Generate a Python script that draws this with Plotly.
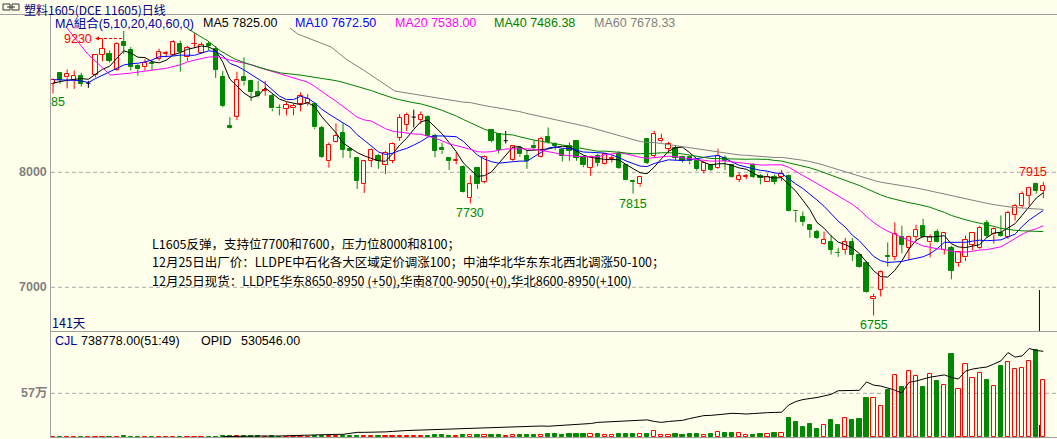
import plotly.graph_objects as go

# ---------------- data ----------------
opens = [8770, 8860, 8825, 8805, 8840, 8775, 8845, 9020, 9030, 8890,
         9130, 9065, 8925, 8915, 8955, 8985, 9030, 9020, 9120, 9000,
         9115, 9040, 9120, 9070, 8825, 8405, 8480, 8830, 8790, 8695,
         8710, 8665, 8560, 8550, 8555, 8595, 8600, 8595, 8385, 8095,
         8265, 8340, 8205, 8125, 7895, 8100, 8145, 8060, 8100, 8300,
         8410, 8480, 8455, 8480, 8320, 8215, 8125, 8100, 8050, 7775,
         8035, 7915, 8370, 8330, 8275, 8110, 8215, 8140, 8225, 8135,
         8310, 8250, 8190, 8225, 8275, 8135, 8040, 8145, 8070, 8120,
         8160, 8065, 7925, 7895, 8290, 8145, 8270, 8205, 8215, 8135,
         8130, 8095, 8010, 8060, 8040, 8125, 8060, 7935, 7960, 8065,
         7965, 7920, 7955, 7960, 7970, 7665, 7615, 7545, 7485, 7380,
         7390, 7300, 7325, 7395, 7285, 7215, 6895, 6980, 7275, 7265,
         7440, 7345, 7440, 7535, 7390, 7485, 7325, 7345, 7210, 7260,
         7370, 7345, 7555, 7460, 7470, 7435, 7630, 7710, 7795, 7895,
         7840]
highs = [8815, 8870, 8895, 8885, 8865, 8795, 9025, 9165, 9060, 9130,
         9230, 9090, 8940, 8985, 8970, 9075, 9055, 9150, 9145, 9100,
         9210, 9130, 9135, 9100, 8880, 8480, 8875, 9000, 8805, 8795,
         8795, 8680, 8590, 8610, 8595, 8695, 8680, 8610, 8405, 8260,
         8425, 8425, 8205, 8130, 8100, 8205, 8160, 8185, 8260, 8505,
         8520, 8545, 8530, 8495, 8335, 8260, 8125, 8175, 8060, 7975,
         8045, 8145, 8375, 8335, 8360, 8230, 8230, 8190, 8275, 8310,
         8390, 8260, 8205, 8260, 8280, 8145, 8145, 8160, 8165, 8145,
         8185, 8070, 7935, 7970, 8300, 8360, 8335, 8265, 8230, 8145,
         8145, 8100, 8100, 8070, 8205, 8145, 8065, 8000, 7985, 8080,
         7985, 7990, 7980, 8020, 7980, 7670, 7660, 7550, 7500, 7485,
         7450, 7345, 7430, 7430, 7290, 7225, 6945, 7145, 7390, 7565,
         7535, 7450, 7545, 7595, 7460, 7505, 7480, 7360, 7315, 7450,
         7480, 7535, 7585, 7520, 7625, 7665, 7725, 7835, 7875, 7910,
         7915]
lows = [8685, 8770, 8730, 8725, 8745, 8735, 8825, 8965, 8955, 8885,
        9030, 8885, 8840, 8885, 8885, 8970, 9000, 9015, 8875, 8970,
        9080, 9035, 9060, 8820, 8565, 8380, 8455, 8755, 8620, 8650,
        8665, 8530, 8495, 8495, 8495, 8530, 8580, 8375, 8125, 8040,
        8260, 8125, 8125, 7855, 7820, 8045, 8030, 7985, 8080, 8275,
        8360, 8390, 8420, 8310, 8130, 8160, 8020, 8070, 7825, 7730,
        7855, 7905, 8260, 8165, 8250, 8100, 8135, 8030, 8205, 8130,
        8250, 8195, 8095, 8100, 8100, 8045, 7970, 8050, 8065, 8085,
        8030, 7930, 7815, 7875, 8070, 8125, 8260, 8165, 8100, 8085,
        8070, 8015, 7990, 8010, 8030, 8020, 7950, 7915, 7940, 7950,
        7895, 7915, 7895, 7925, 7660, 7565, 7535, 7430, 7420, 7370,
        7285, 7265, 7285, 7230, 7170, 6950, 6755, 6920, 7180, 7235,
        7295, 7235, 7400, 7430, 7260, 7390, 7285, 7070, 7180, 7230,
        7320, 7335, 7430, 7380, 7440, 7420, 7580, 7690, 7710, 7815,
        7775]
closes = [8805, 8805, 8855, 8840, 8770, 8775, 9020, 9075, 8970, 9120,
          9100, 8920, 8895, 8955, 8940, 9050, 9035, 9130, 9050, 9080,
          9120, 9110, 9095, 8890, 8575, 8385, 8805, 8790, 8695, 8660,
          8720, 8555, 8555, 8585, 8580, 8665, 8640, 8390, 8135, 8240,
          8315, 8195, 8185, 7925, 8095, 8195, 8100, 8165, 8245, 8475,
          8500, 8480, 8500, 8320, 8185, 8190, 8100, 8105, 7830, 7895,
          7895, 8130, 8270, 8195, 8275, 8225, 8155, 8100, 8210, 8290,
          8260, 8230, 8145, 8185, 8125, 8060, 8135, 8085, 8155, 8125,
          8040, 7935, 7920, 7960, 8085, 8330, 8290, 8245, 8125, 8100,
          8095, 8030, 8080, 8020, 8145, 8100, 7955, 7970, 7965, 7960,
          7950, 7960, 7915, 7985, 7665, 7660, 7565, 7500, 7430, 7415,
          7325, 7295, 7390, 7285, 7175, 6955, 6920, 7130, 7265, 7465,
          7370, 7435, 7500, 7440, 7440, 7395, 7470, 7145, 7305, 7415,
          7470, 7520, 7450, 7505, 7450, 7650, 7710, 7815, 7865, 7840,
          7885]
volumes = [5000, 4000, 6000, 4000, 4000, 3000, 8000, 9000, 6000, 9000,
           11000, 8000, 6000, 5000, 5000, 7000, 4000, 8000, 8000, 6000,
           7000, 5000, 5000, 9000, 16000, 18000, 15000, 12000, 13000, 11000,
           9000, 12000, 10000, 9000, 10000, 12000, 10000, 14000, 17000, 20000,
           15000, 14000, 12000, 18000, 20000, 15000, 13000, 14000, 16000, 21000,
           22000, 18000, 17000, 20000, 26000, 24000, 22000, 20000, 30000, 28000,
           26000, 30000, 24000, 28000, 22000, 30000, 32000, 30000, 25000, 36000,
           40000, 38000, 35000, 42000, 45000, 40000, 38000, 45000, 36000, 30000,
           42000, 45000, 48000, 40000, 47000, 82000, 30000, 30000, 43000, 30000,
           43000, 43000, 30000, 43000, 65000, 56000, 56000, 52000, 30000, 30000,
           43000, 43000, 56000, 52000, 250000, 199000, 134000, 173000, 108000, 155000,
           225000, 160000, 250000, 225000, 237000, 509000, 509000, 404000, 613000, 805000,
           650000, 857000, 794000, 648000, 816000, 725000, 678000, 1080000, 622000, 946000,
           764000, 829000, 743000, 661000, 924000, 972000, 881000, 894000, 985000, 1129000,
           738778]
oi_first_day = 24
open_interest = [153000, 154000, 154000, 155000, 155000, 155000, 156000, 155000, 156000,
                 159000, 158000, 159000, 159000, 163000, 163000, 164000, 163000, 163000,
                 168000, 172000, 172000, 172000, 172000, 174000, 176000, 179000,
                 180000, 181000, 182000, 185000, 185000, 187000, 187000, 189000, 190000, 191000,
                 193000, 193000, 194000, 194000, 196000, 197000, 198000, 199000, 199000, 200000,
                 199000, 201000, 202000, 204000, 205000, 207000, 211000, 216000, 218000, 220000,
                 221000, 222000, 224000, 226000, 227000, 220000, 216000, 220000, 224000, 225000,
                 233000, 240000, 246000, 247000, 250000, 254000, 256000, 255000, 253000, 255000,
                 258000, 259000, 260000, 261000, 293000, 308000, 317000, 321000, 326000, 333000,
                 340000, 356000, 357000, 355000, 358000, 395000, 381000, 377000, 368000, 359000,
                 346000, 393000, 399000, 408000, 416000, 421000, 426000, 415000, 408000, 443000,
                 452000, 457000, 461000, 474000, 488000, 525000, 505000, 510000, 543000, 534000,
                 530546]
# moving-average values before enough visible days exist
ma5_head = [8777, 8790, 8800, 8808]
ma10_head = [8806, 8806, 8805, 8800, 8795, 8780, 8815, 8845, 8875]
ma20_head_x = [1.0, 2.1, 4.9, 8.1, 11.0, 13.4, 16.0, 18.0]
ma20_head = [9340, 9246, 9029, 8846, 8863, 8881, 8905, 8935]
ma40_head_x = [18.0, 19.1, 21.9, 23.7, 25.7, 27.6, 30.0, 32.2, 34.9, 38.0]
ma40_head = [9330, 9246, 9142, 9055, 8985, 8942, 8898, 8864, 8846, 8815]
ma60_head_x = [32.0, 33.5, 34.6, 39.3, 41.6, 44.1, 48.3, 53.4, 58.0]
ma60_head = [9370, 9255, 9203, 9090, 8977, 8881, 8707, 8655, 8610]

title_text = "塑料1605(DCE 11605)日线"
legend_items = [("MA組合(5,10,20,40,60,0)", "#0000A0"), ("MA5 7825.00", "#000000"),
                ("MA10 7672.50", "#0000FF"), ("MA20 7538.00", "#FF00FF"),
                ("MA40 7486.38", "#008000"), ("MA60 7678.33", "#808080")]
note_lines = ["L1605反弹，支持位7700和7600，压力位8000和8100；",
              "12月25日出厂价：LLDPE中石化各大区域定价调涨100；中油华北华东东北西北调涨50-100；",
              "12月25日现货：LLDPE华东8650-8950 (+50),华南8700-9050(+0),华北8600-8950(+100)"]
price_ticks = [8000, 7000]
vol_tick = 570000
vol_tick_label = "57万"

# ---------------- styling ----------------
W, H = 1057, 439
BG = "#FFFFEC"
RED = "#FF0000"
GREEN = "#008800"
GRID = "#A8A8A8"
AXIS = "#A0A0A0"
BODY_W = 0.6
LAT = "Liberation Sans, Noto Sans CJK SC"
CJK = "Noto Sans CJK SC"


def px(x):
    return x / W


def py(y):
    return 1 - y / H


N = len(closes)
xs = list(range(N))


def sma(vals, n):
    return [sum(vals[i - n + 1:i + 1]) / n if i >= n - 1 else None for i in range(len(vals))]


up = [i for i in xs if closes[i] > opens[i]]
dn = [i for i in xs if closes[i] < opens[i]]
eq = [i for i in xs if closes[i] == opens[i]]


def wick_xy(idx, full=False):
    wx, wy = [], []
    for i in idx:
        top = max(opens[i], closes[i])
        bot = min(opens[i], closes[i])
        if full:
            wx += [i, i, None, i - BODY_W / 2, i + BODY_W / 2, None]
            wy += [highs[i], lows[i], None, opens[i], opens[i], None]
            continue
        if highs[i] > top:
            wx += [i, i, None]
            wy += [highs[i], top, None]
        if lows[i] < bot:
            wx += [i, i, None]
            wy += [bot, lows[i], None]
    return wx, wy


fig = go.Figure()

# candle wicks
for idx, col, full in [(up, RED, False), (dn, GREEN, False), (eq, "#000000", True)]:
    wx, wy = wick_xy(idx, full)
    fig.add_trace(go.Scatter(x=wx, y=wy, mode="lines", line=dict(color=col, width=1),
                             hoverinfo="skip", yaxis="y"))
# candle bodies
fig.add_trace(go.Bar(x=up, y=[closes[i] - opens[i] for i in up], base=[opens[i] for i in up],
                     width=BODY_W, marker=dict(color=BG, line=dict(color=RED, width=1)), yaxis="y"))
fig.add_trace(go.Bar(x=dn, y=[opens[i] - closes[i] for i in dn], base=[closes[i] for i in dn],
                     width=BODY_W, marker=dict(color=GREEN, line=dict(color=GREEN, width=1)), yaxis="y"))

# moving averages
ma_specs = [
    (list(range(4)) + xs[4:], ma5_head + sma(closes, 5)[4:], "#000000"),
    (list(range(9)) + xs[9:], ma10_head + sma(closes, 10)[9:], "#0000FF"),
    (ma20_head_x + xs[19:], ma20_head + sma(closes, 20)[19:], "#FF00FF"),
    (ma40_head_x + xs[39:], ma40_head + sma(closes, 40)[39:], "#008000"),
    (ma60_head_x + xs[59:], ma60_head + sma(closes, 60)[59:], "#808080"),
]
for mx, my, col in ma_specs:
    fig.add_trace(go.Scatter(x=mx, y=my, mode="lines", line=dict(color=col, width=1),
                             hoverinfo="skip", yaxis="y"))

# volume bars
vup = [i for i in xs if closes[i] >= opens[i]]
vdn = [i for i in xs if closes[i] < opens[i]]
fig.add_trace(go.Bar(x=vup, y=[volumes[i] for i in vup], width=BODY_W,
                     marker=dict(color=BG, line=dict(color=RED, width=1)), yaxis="y2"))
fig.add_trace(go.Bar(x=vdn, y=[volumes[i] for i in vdn], width=BODY_W,
                     marker=dict(color=GREEN, line=dict(color=GREEN, width=1)), yaxis="y2"))
# open interest
fig.add_trace(go.Scatter(x=list(range(oi_first_day, N)), y=open_interest, mode="lines",
                         line=dict(color="#000000", width=1), yaxis="y3", hoverinfo="skip"))

# ---------------- frame / grid ----------------
shapes = []
line_gray = dict(color=AXIS, width=1)
shapes.append(dict(type="line", xref="paper", yref="paper", x0=0, x1=1, y0=py(14.5), y1=py(14.5), line=line_gray))
shapes.append(dict(type="line", xref="paper", yref="paper", x0=px(50.5), x1=px(50.5), y0=py(14.5), y1=py(437.5), line=line_gray))
shapes.append(dict(type="line", xref="paper", yref="paper", x0=px(50.5), x1=1, y0=py(331.5), y1=py(331.5), line=line_gray))
shapes.append(dict(type="line", xref="paper", yref="paper", x0=px(50.5), x1=1, y0=py(437.5), y1=py(437.5), line=line_gray))
for t in price_ticks:
    shapes.append(dict(type="line", xref="paper", yref="y", x0=px(51), x1=1, y0=t, y1=t,
                       line=dict(color=GRID, width=1, dash="4px,3px"), layer="below"))
shapes.append(dict(type="line", xref="paper", yref="y2", x0=px(51), x1=1, y0=vol_tick, y1=vol_tick,
                   line=dict(color=GRID, width=1, dash="4px,3px"), layer="below"))
# cursor line
shapes.append(dict(type="line", xref="x", yref="y", x0=139.45, x1=139.45, y0=6620, y1=6976,
                   line=dict(color="#000080", width=1)))
shapes.append(dict(type="line", xref="x", yref="y2", x0=139.45, x1=139.45, y0=0, y1=159000,
                   line=dict(color="#000080", width=1)))
# 9230 marker dashes
shapes.append(dict(type="line", xref="paper", yref="paper", x0=px(99), x1=px(122), y0=py(38.5), y1=py(38.5),
                   line=dict(color=RED, width=1, dash="3px,2px")))
# link icon
for x0, x1 in [(3, 10), (12, 19)]:
    shapes.append(dict(type="rect", xref="paper", yref="paper", x0=px(x0), x1=px(x1), y0=py(4), y1=py(10),
                       line=dict(color="#303030", width=1)))
shapes.append(dict(type="line", xref="paper", yref="paper", x0=px(7), x1=px(15), y0=py(7), y1=py(7),
                   line=dict(color="#303030", width=1)))

# ---------------- text ----------------
ann = []


def txt(text, x, y, color, size=12, family=LAT, xanchor="left", xref="paper", yref="paper",
        bold=False, **kw):
    font = dict(color=color, size=size, family=family)
    if bold:
        font["weight"] = "bold"
    d = dict(text=text, x=x, y=y, xref=xref, yref=yref, xanchor=xanchor, yanchor=kw.pop("yanchor", "middle"),
             showarrow=False, borderpad=0, font=font)
    d.update(kw)
    ann.append(d)


txt(title_text, px(23), py(0), "#00007F", 12, CJK, yanchor="top")
leg_x = [54, 202, 294, 394, 493, 593]
for (t, c), lx in zip(legend_items, leg_x):
    txt(t, px(lx), py(23), c, 12.5, LAT)

txt("9230", px(63), py(39), RED, 12.5)
ann.append(dict(x=px(95), y=py(38.5), xref="paper", yref="paper", ax=7, ay=0, text="", showarrow=True,
                arrowhead=2, arrowsize=0.8, arrowwidth=1, arrowcolor=RED))
txt("85", px(50), py(102), GREEN, 12.5)

for i, lab, col, anchor, shift, xs_ in [(59, "7730", GREEN, "top", -2, 0), (82, "7815", GREEN, "top", -2, 0),
                                          (116, "6755", GREEN, "top", -2, 0), (140, "7915", RED, "bottom", 2, -10)]:
    yv = lows[i] if anchor == "top" else highs[i]
    txt(lab, i, yv, col, 12.5, LAT, xanchor="center", xref="x", yref="y", yanchor=anchor,
        yshift=shift, xshift=xs_)

for k, line in enumerate(note_lines):
    txt(line, px(151), py(243.5 + 18.3 * k), "#000000", 12.5, CJK)

txt("141天", px(51), py(322), "#00007F", 12.5, CJK)
txt("CJL", px(54), py(341), "#0000A0", 12.5)
txt("738778.00(51:49)", px(80), py(341), "#000000", 12.5)
txt("OPID", px(200), py(341), "#000000", 12.5)
txt("530546.00", px(240), py(341), "#000000", 12.5)

for t in price_ticks:
    txt(str(t), px(47.5), t, "#7F7F7F", 12.5, LAT, xanchor="right", yref="y", bold=True)
txt(vol_tick_label, px(47.5), vol_tick, "#7F7F7F", 12.5, LAT, xanchor="right", yref="y2", bold=True)

fig.update_layout(
    width=W, height=H, autosize=False, margin=dict(l=0, r=0, t=0, b=0, pad=0),
    paper_bgcolor=BG, plot_bgcolor=BG, showlegend=False, barmode="overlay", bargap=0,
    xaxis=dict(domain=[px(50), 1], range=[-0.424, 141.93], visible=False, fixedrange=True),
    yaxis=dict(domain=[py(331), py(28)], range=[6620, 9255], visible=False, fixedrange=True),
    yaxis2=dict(domain=[py(437.3), py(331)], range=[0, 1377000], visible=False, anchor="x", fixedrange=True),
    yaxis3=dict(overlaying="y2", range=[150000, 620400], visible=False, anchor="x", fixedrange=True),
    shapes=shapes, annotations=ann,
)
fig.write_html("out.html")
